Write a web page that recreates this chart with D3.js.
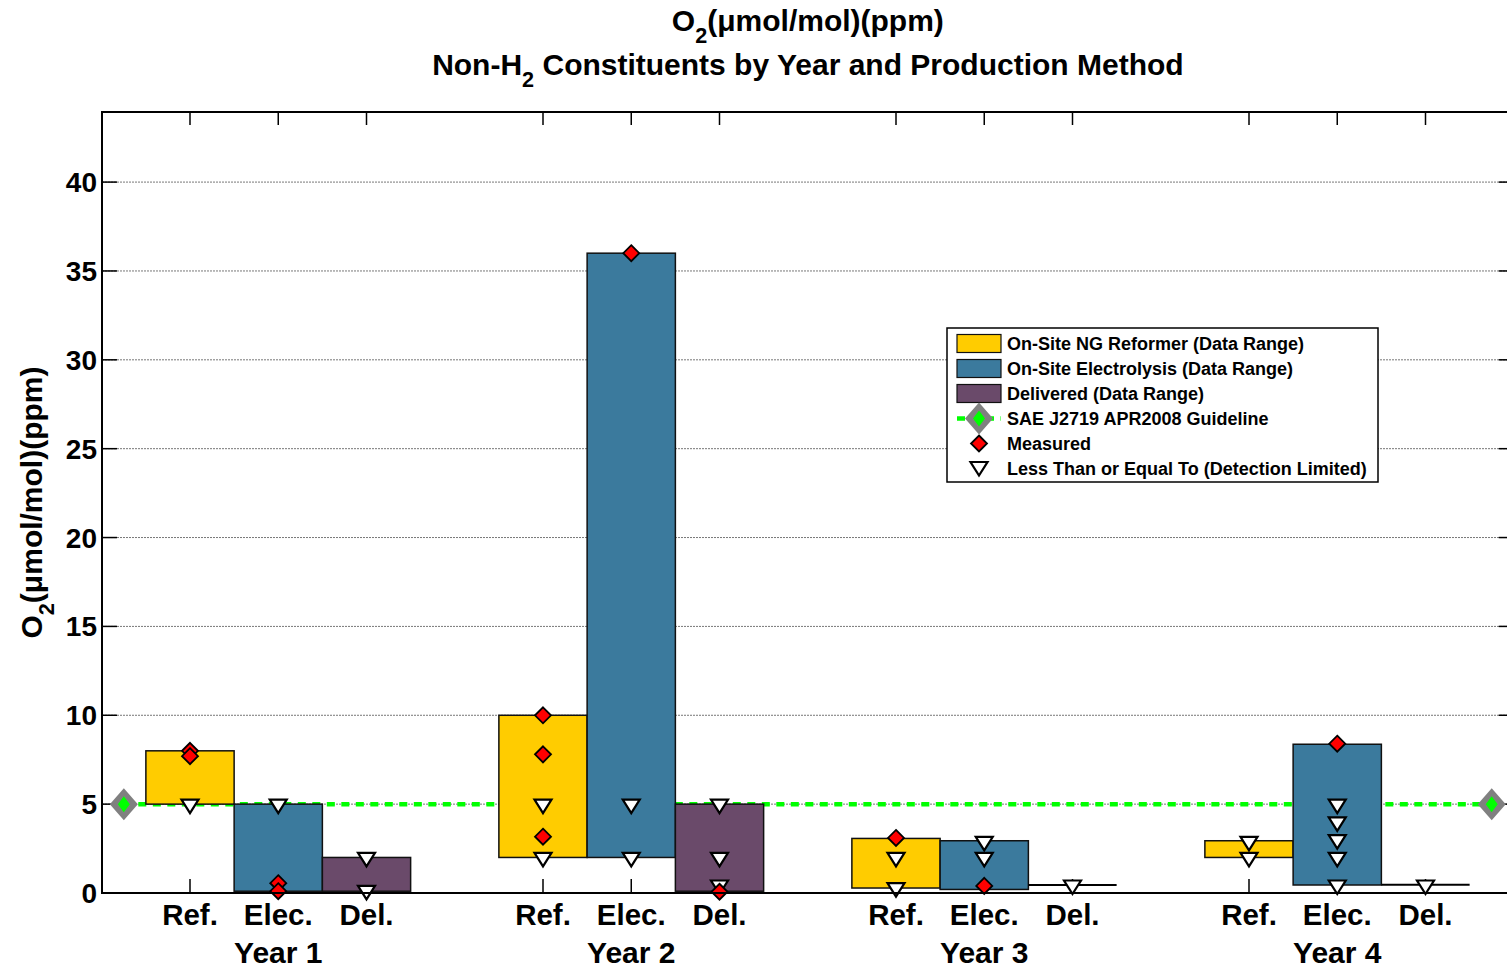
<!DOCTYPE html>
<html lang="en">
<head>
<meta charset="UTF-8"/>
<title>O2 Non-H2 Constituents</title>
<style>
  * { margin: 0; padding: 0; }
  body { background: #fff; overflow: hidden; }
  svg { display: block; font-family: Arial, "Liberation Sans", Helvetica, sans-serif; font-weight: bold; }
</style>
</head>
<body>
<svg id="chart" width="1507" height="971"></svg>
<script src="https://cdn.jsdelivr.net/npm/d3@7/dist/d3.min.js"></script>
<script>
// --- data ---
const years   = ['Year 1', 'Year 2', 'Year 3', 'Year 4']
const methods = ['Ref.', 'Elec.', 'Del.']
const seriesNames = [
  'On-Site NG Reformer (Data Range)',
  'On-Site Electrolysis (Data Range)',
  'Delivered (Data Range)',
]
const seriesColors = ['#ffcc00', '#3b7a9d', '#6a4a6a']

// data range per [year][method]
const rangeLow  = [[5, 0.1, 0.1], [2, 2, 0.1], [0.28, 0.2, 0.45], [2, 0.45, 0.47]]
const rangeHigh = [[8, 5, 2], [10, 36, 5], [3.07, 2.94, 0.45], [2.94, 8.37, 0.47]]

// measured values (red diamonds)
const measured = [
  [[8.0, 7.7], [0.55, 0.1], []],
  [[10, 7.8, 3.17], [36], [0.07]],
  [[3.1], [0.4], []],
  [[], [8.4], []],
]
// detection limited values (open triangles)
const detectLimited = [
  [[5], [5], [2, 0.15]],
  [[5, 2], [5, 2], [5, 2, 0.45]],
  [[2, 0.3], [2.9, 2], [0.45]],
  [[2.9, 2], [5, 4, 3, 2, 0.45], [0.45]],
]
const guideline = 5
const guideName = 'SAE J2719 APR2008 Guideline'
const yTicks = [0, 5, 10, 15, 20, 25, 30, 35, 40]

// --- layout ---
const svg = d3.select('#chart')
const L = 102, T = 112, B = 893

const x = d3.scaleLinear().domain([0, 16]).range([101.75, 1513.75])
const y = d3.scaleLinear().domain([0, 44]).range([B, 111])
const R = x(16)

const pos = (g, m) => g * 4 + m + 1

const diamond = r => `M0,${-r}L${r},0L0,${r}L${-r},0Z`
const triangle = 'M-8.5,-4.5L8.5,-4.5L0,9Z'

// gridlines
svg.append('g').selectAll('line')
  .data(yTicks.filter(d => d > 0))
  .join('line')
    .attr('x1', L).attr('x2', R)
    .attr('y1', d => y(d)).attr('y2', d => y(d))
    .attr('stroke', '#777').attr('stroke-width', 1)
    .attr('stroke-dasharray', '2,1')

// ticks (inward)
const xPositions = d3.range(4).flatMap(g => d3.range(3).map(m => pos(g, m)))
const tickG = svg.append('g').attr('stroke', '#000').attr('stroke-width', 1.5)
tickG.selectAll('.xt-top').data(xPositions).join('line')
  .attr('x1', d => x(d)).attr('x2', d => x(d)).attr('y1', T).attr('y2', T + 13)
tickG.selectAll('.xt-bot').data(xPositions).join('line')
  .attr('x1', d => x(d)).attr('x2', d => x(d)).attr('y1', B).attr('y2', B - 14)
tickG.selectAll('.yt-l').data(yTicks).join('line')
  .attr('x1', L).attr('x2', L + 15).attr('y1', d => y(d)).attr('y2', d => y(d))
tickG.selectAll('.yt-r').data(yTicks).join('line')
  .attr('x1', R).attr('x2', R - 15).attr('y1', d => y(d)).attr('y2', d => y(d))

// guideline (behind bars)
svg.append('line')
  .attr('x1', x(0.25)).attr('x2', x(15.75))
  .attr('y1', y(guideline)).attr('y2', y(guideline))
  .attr('stroke', '#00ff00').attr('stroke-width', 4.5)
  .attr('stroke-dasharray', '8,6.5')

// bars
const cells = d3.range(4).flatMap(g => d3.range(3).map(m => ({ g, m })))
svg.append('g').selectAll('rect')
  .data(cells.filter(c => rangeHigh[c.g][c.m] > rangeLow[c.g][c.m]))
  .join('rect')
    .attr('x', c => x(pos(c.g, c.m) - 0.5))
    .attr('width', c => x(pos(c.g, c.m) + 0.5) - x(pos(c.g, c.m) - 0.5))
    .attr('y', c => y(rangeHigh[c.g][c.m]))
    .attr('height', c => y(rangeLow[c.g][c.m]) - y(rangeHigh[c.g][c.m]))
    .attr('fill', c => seriesColors[c.m])
    .attr('stroke', '#111').attr('stroke-width', 1.5)

// zero-height ranges drawn as a line
svg.append('g').selectAll('line')
  .data(cells.filter(c => rangeHigh[c.g][c.m] <= rangeLow[c.g][c.m]))
  .join('line')
    .attr('x1', c => x(pos(c.g, c.m) - 0.5)).attr('x2', c => x(pos(c.g, c.m) + 0.5))
    .attr('y1', c => y(rangeLow[c.g][c.m])).attr('y2', c => y(rangeLow[c.g][c.m]))
    .attr('stroke', '#000').attr('stroke-width', 2)

// guideline end markers
svg.append('g').selectAll('g')
  .data([0.25, 15.75])
  .join('g')
    .attr('transform', d => `translate(${x(d)},${y(guideline)})`)
    .call(gg => {
      gg.append('path').attr('d', 'M0,-16L14,0L0,16L-14,0Z').attr('fill', '#808080')
      gg.append('path').attr('d', 'M0,-8L6,0L0,8L-6,0Z').attr('fill', '#00ff00')
    })

// detection-limited triangles
const triPts = cells.flatMap(c => detectLimited[c.g][c.m].map(v => ({ px: pos(c.g, c.m), v })))
svg.append('g').selectAll('path')
  .data(triPts)
  .join('path')
    .attr('transform', d => `translate(${x(d.px)},${y(d.v)})`)
    .attr('d', triangle)
    .attr('fill', '#fff').attr('stroke', '#000').attr('stroke-width', 2.2)

// measured diamonds
const measPts = cells.flatMap(c => measured[c.g][c.m].map(v => ({ px: pos(c.g, c.m), v })))
svg.append('g').selectAll('path')
  .data(measPts)
  .join('path')
    .attr('transform', d => `translate(${x(d.px)},${y(d.v)})`)
    .attr('d', diamond(8))
    .attr('fill', '#ff0000').attr('stroke', '#000').attr('stroke-width', 1.8)

// axes frame
svg.append('path')
  .attr('d', `M${R},${T}H${L}V${B}H${R}`)
  .attr('fill', 'none').attr('stroke', '#000').attr('stroke-width', 2)

// y tick labels
svg.append('g').selectAll('text')
  .data(yTicks)
  .join('text')
    .attr('x', 97).attr('y', d => y(d)).attr('dy', '0.36em')
    .attr('text-anchor', 'end').attr('font-size', 28)
    .text(d => d)

// x tick labels and year labels
svg.append('g').selectAll('text')
  .data(cells)
  .join('text')
    .attr('x', c => x(pos(c.g, c.m))).attr('y', 925)
    .attr('text-anchor', 'middle').attr('font-size', 29.5)
    .text(c => methods[c.m])
svg.append('g').selectAll('text')
  .data(years)
  .join('text')
    .attr('x', (d, i) => x(pos(i, 1))).attr('y', 963)
    .attr('text-anchor', 'middle').attr('font-size', 30)
    .text(d => d)

// titles with subscripts
function subText(sel, before, sub, after, size) {
  sel.append('tspan').text(before)
  sel.append('tspan').attr('font-size', size * 0.72).attr('dy', size * 0.4).text(sub)
  sel.append('tspan').attr('dy', -size * 0.4).text(after)
}
const cx = (L + R) / 2
svg.append('text').attr('x', cx).attr('y', 31).attr('text-anchor', 'middle').attr('font-size', 30)
  .call(s => subText(s, 'O', '2', '(μmol/mol)(ppm)', 30))
svg.append('text').attr('x', cx).attr('y', 75).attr('text-anchor', 'middle').attr('font-size', 30)
  .call(s => subText(s, 'Non-H', '2', ' Constituents by Year and Production Method', 30))

svg.append('text')
  .attr('transform', `translate(42,${(T + B) / 2}) rotate(-90)`)
  .attr('text-anchor', 'middle').attr('font-size', 30)
  .call(s => subText(s, 'O', '2', '(μmol/mol)(ppm)', 30))

// legend
const lg = svg.append('g').attr('transform', 'translate(947,328)')
lg.append('rect').attr('width', 431).attr('height', 154)
  .attr('fill', '#fff').attr('stroke', '#000').attr('stroke-width', 1.5)
const rowY = i => 15.5 + i * 25
seriesNames.forEach((name, i) => {
  lg.append('rect').attr('x', 10).attr('y', rowY(i) - 9).attr('width', 44).attr('height', 18)
    .attr('fill', seriesColors[i]).attr('stroke', '#111').attr('stroke-width', 1.2)
})
lg.append('line').attr('x1', 10).attr('x2', 54).attr('y1', rowY(3)).attr('y2', rowY(3))
  .attr('stroke', '#00ff00').attr('stroke-width', 4.5).attr('stroke-dasharray', '8,6.5')
lg.append('path').attr('transform', `translate(32,${rowY(3)})`).attr('d', 'M0,-16L14,0L0,16L-14,0Z').attr('fill', '#808080')
lg.append('path').attr('transform', `translate(32,${rowY(3)})`).attr('d', 'M0,-8L6,0L0,8L-6,0Z').attr('fill', '#00ff00')
lg.append('path').attr('transform', `translate(32,${rowY(4)})`).attr('d', diamond(8))
  .attr('fill', '#ff0000').attr('stroke', '#000').attr('stroke-width', 1.8)
lg.append('path').attr('transform', `translate(32,${rowY(5) - 2})`).attr('d', triangle)
  .attr('fill', '#fff').attr('stroke', '#000').attr('stroke-width', 2.2)
const legendLabels = [...seriesNames, guideName, 'Measured', 'Less Than or Equal To (Detection Limited)']
lg.selectAll('text.lab').data(legendLabels).join('text')
  .attr('x', 60).attr('y', (d, i) => rowY(i)).attr('dy', '0.36em')
  .attr('font-size', 18)
  .text(d => d)
</script>
</body>
</html>
